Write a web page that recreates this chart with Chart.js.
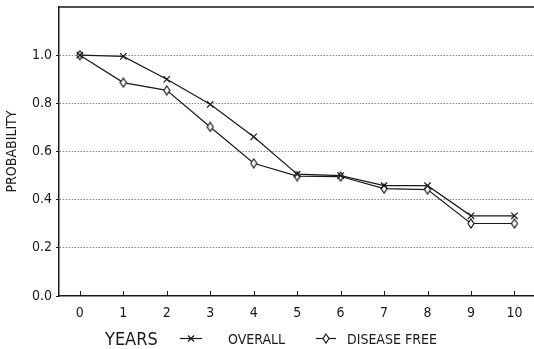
<!DOCTYPE html>
<html>
<head>
<meta charset="utf-8">
<script src="https://cdn.jsdelivr.net/npm/chart.js@4.4.0/dist/chart.umd.min.js"></script>
<style>
  html, body { margin: 0; padding: 0; background: #fff; }
  #wrap { width: 534px; height: 349px; }
</style>
</head>
<body>
<div id="wrap"><canvas id="survivalChart"></canvas></div>
<script>
const years = [0, 1, 2, 3, 4, 5, 6, 7, 8, 9, 10];
const overall = [1.0, 0.995, 0.90, 0.796, 0.661, 0.506, 0.50, 0.458, 0.458, 0.333, 0.333];
const diseaseFree = [1.0, 0.886, 0.854, 0.702, 0.551, 0.498, 0.496, 0.446, 0.442, 0.301, 0.301];
const yTicks = [0, 0.2, 0.4, 0.6, 0.8, 1.0];
const seriesNames = ["OVERALL", "DISEASE FREE"];

const FONT = "'Liberation Sans Narrow', 'DejaVu Sans Condensed', 'Liberation Sans', sans-serif";
const INK = "#1a1a1a";

// narrow hollow diamond used for the disease free curve
function diamond(w, h) {
  const c = document.createElement("canvas");
  c.width = w + 2; c.height = h + 2;
  const g = c.getContext("2d");
  g.beginPath();
  g.moveTo(c.width / 2, 1);
  g.lineTo(c.width - 1, c.height / 2);
  g.lineTo(c.width / 2, c.height - 1);
  g.lineTo(1, c.height / 2);
  g.closePath();
  g.fillStyle = "#fff";
  g.fill();
  g.lineWidth = 1.2;
  g.strokeStyle = INK;
  g.stroke();
  return c;
}
const diamondMark = diamond(6, 9);

// frame top, inner x ticks, and the "YEARS" caption with the inline legend
const decorations = {
  id: "decorations",
  afterDraw(chart) {
    const { ctx, chartArea: a, scales: { x } } = chart;
    ctx.save();
    ctx.strokeStyle = INK;
    ctx.lineWidth = 1.5;
    ctx.beginPath();
    ctx.moveTo(a.left, a.top);
    ctx.lineTo(a.right, a.top);
    ctx.stroke();

    ctx.lineWidth = 1;
    years.forEach(v => {
      const px = Math.round(x.getPixelForValue(v)) + 0.5;
      ctx.beginPath();
      ctx.moveTo(px, a.bottom);
      ctx.lineTo(px, a.bottom - 5);
      ctx.stroke();
    });

    ctx.fillStyle = INK;
    ctx.textBaseline = "alphabetic";
    ctx.font = "18px " + FONT;
    ctx.fillText("YEARS", 105, 345);

    ctx.font = "14px " + FONT;
    const items = [
      { name: seriesNames[0], x0: 180, x1: 202, text: 228 },
      { name: seriesNames[1], x0: 316, x1: 336, text: 347 }
    ];
    items.forEach((it, i) => {
      const y = 338.5;
      ctx.lineWidth = 1.2;
      ctx.beginPath();
      ctx.moveTo(it.x0, y);
      ctx.lineTo(it.x1, y);
      ctx.stroke();
      const cx = (it.x0 + it.x1) / 2;
      if (i === 0) {
        ctx.beginPath();
        ctx.moveTo(cx - 3, y - 3); ctx.lineTo(cx + 3, y + 3);
        ctx.moveTo(cx + 3, y - 3); ctx.lineTo(cx - 3, y + 3);
        ctx.stroke();
      } else {
        ctx.drawImage(diamondMark, cx - diamondMark.width / 2, y - diamondMark.height / 2);
      }
      ctx.fillText(it.name, it.text, 344);
    });
    ctx.restore();
  }
};

const toPoints = vals => years.map((yr, i) => ({ x: yr, y: vals[i] }));

new Chart(document.getElementById("survivalChart"), {
  type: "line",
  data: {
    datasets: [
      {
        label: seriesNames[0],
        data: toPoints(overall),
        borderColor: INK,
        borderWidth: 1.2,
        pointStyle: "crossRot",
        pointRadius: 4.5,
        pointBorderWidth: 1.2,
        pointBorderColor: INK,
        tension: 0
      },
      {
        label: seriesNames[1],
        data: toPoints(diseaseFree),
        borderColor: INK,
        borderWidth: 1.2,
        pointStyle: diamondMark,
        tension: 0
      }
    ]
  },
  options: {
    responsive: true,
    maintainAspectRatio: false,
    animation: false,
    layout: { autoPadding: false, padding: { top: 7, right: 0, left: 0, bottom: 0 } },
    plugins: { legend: { display: false }, tooltip: { enabled: false } },
    scales: {
      x: {
        type: "linear",
        min: -0.48,
        max: 10.45,
        afterBuildTicks: s => { s.ticks = years.map(v => ({ value: v })); },
        afterFit: s => { s.height = 53; s.paddingLeft = 0; s.paddingRight = 0; },
        grid: { display: false, drawTicks: false },
        border: { color: INK, width: 1.5 },
        ticks: {
          color: INK,
          padding: 9,
          maxRotation: 0,
          font: { family: FONT, size: 14 },
          callback: v => String(v)
        }
      },
      y: {
        min: 0,
        max: 1.2,
        afterBuildTicks: s => { s.ticks = yTicks.map(v => ({ value: v })); },
        afterFit: s => { s.width = 59; s.paddingTop = 0; s.paddingBottom = 0; },
        grid: {
          color: c => (c.tick && c.tick.value > 0 ? "#8a8a8a" : "rgba(0,0,0,0)"),
          lineWidth: 1,
          tickColor: INK,
          tickLength: 3
        },
        border: { color: INK, width: 1.5, dash: [1.5, 1.5] },
        ticks: {
          color: INK,
          padding: 4,
          font: { family: FONT, size: 14 },
          callback: v => v.toFixed(1)
        },
        title: {
          display: true,
          text: "PROBABILITY",
          color: INK,
          padding: { top: 4, bottom: 2 },
          font: { family: FONT, size: 14 }
        }
      }
    }
  },
  plugins: [decorations]
});
</script>
</body>
</html>
